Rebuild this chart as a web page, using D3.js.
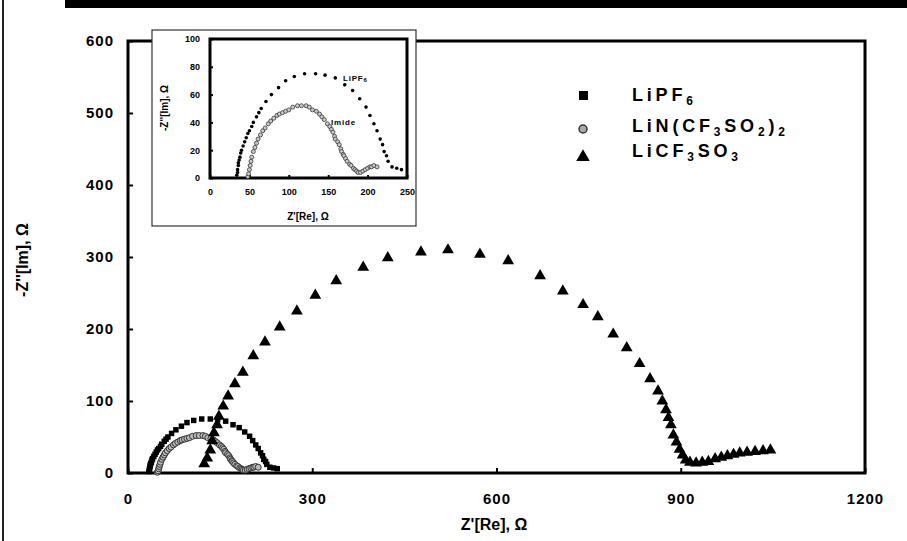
<!DOCTYPE html>
<html>
<head>
<meta charset="utf-8">
<script src="https://cdn.jsdelivr.net/npm/d3@7"></script>
<style>
  body { margin: 0; background: #fff; }
  svg { display: block; font-family: Arial, "Liberation Sans", sans-serif; font-weight: bold; }
</style>
</head>
<body>
<svg id="chart" width="907" height="541"></svg>
<script>
// data (Z' , -Z'')
const lipf6 = [[34,2],[35,4],[35,6],[36,9],[36,11],[37,13],[38,15],[39,18],[40,20],[42,23],[44,26],[46,29],[48,32],[50,34],[53,37],[55,40],[59,44],[62,47],[65,50],[71,55],[78,60],[87,65],[96,70],[107,73],[120,75],[134,75],[146,74],[159,72],[171,67],[181,63],[190,57],[198,51],[203,45],[208,39],[212,34],[216,28],[219,24],[221,19],[224,16],[226,12],[231,8],[237,7],[243,6]];
const imide = [[48,1],[49,3],[50,6],[51,9],[52,12],[53,15],[55,19],[57,22],[59,25],[61,28],[64,31],[67,34],[70,36],[74,39],[77,41],[81,43],[85,45],[88,46],[92,47],[96,48],[100,49],[105,51],[111,52],[116,52],[122,52],[126,51],[130,49],[135,48],[139,46],[142,44],[145,42],[149,39],[152,37],[154,35],[156,33],[158,30],[159,28],[162,26],[164,24],[166,21],[167,19],[169,17],[170,16],[172,14],[174,12],[177,10],[179,9],[182,7],[184,6],[186,5],[188,4],[191,4],[194,5],[197,6],[200,7],[203,8],[205,8],[208,9],[212,8]];
const licf3so3 = [[124,10],[129,18],[134,29],[137,42],[140,53],[145,64],[148,76],[155,90],[163,104],[174,121],[187,137],[204,160],[223,179],[247,200],[275,222],[305,244],[339,264],[383,283],[423,296],[477,304],[521,307],[573,301],[619,292],[671,271],[708,250],[741,231],[765,214],[790,190],[812,171],[833,149],[850,128],[863,111],[870,97],[876,85],[880,74],[884,64],[888,50],[893,40],[898,30],[903,22],[908,15],[915,12],[925,11],[935,12],[945,13],[956,17],[966,19],[976,21],[986,23],[996,25],[1008,26],[1021,27],[1034,28],[1046,29]];

const xTicks = [0, 300, 600, 900, 1200];
const yTicks = [0, 100, 200, 300, 400, 500, 600];
const insetXTicks = [0, 50, 100, 150, 200, 250];
const insetYTicks = [0, 20, 40, 60, 80, 100];

const svg = d3.select('#chart');

// scan edges
svg.append('rect').attr('x', 65).attr('y', 0).attr('width', 842).attr('height', 8).attr('fill', '#000');
svg.append('rect').attr('x', 2).attr('y', 0).attr('width', 2).attr('height', 541).attr('fill', '#222');

/// main plot
const x = d3.scaleLinear().domain([0, 1200]).range([128, 865]);
const y = d3.scaleLinear().domain([0, 600]).range([473, 41]);

svg.append('g').attr('transform', 'translate(0,473)')
  .call(d3.axisBottom(x).tickValues(xTicks).tickFormat(d3.format('d')).tickSizeInner(-5).tickSizeOuter(0).tickPadding(20))
  .call(g => g.select('.domain').remove())
  .call(g => g.selectAll('line').attr('stroke-width', 2))
  .call(g => g.selectAll('text').attr('font-size', 15).attr('font-weight', 'bold').attr('fill', '#000').attr('letter-spacing', 1));

svg.append('g').attr('transform', 'translate(128,0)')
  .call(d3.axisLeft(y).tickValues(yTicks).tickSizeInner(-5).tickSizeOuter(0).tickPadding(14))
  .call(g => g.select('.domain').remove())
  .call(g => g.selectAll('line').attr('stroke-width', 2))
  .call(g => g.selectAll('text').attr('font-size', 15).attr('font-weight', 'bold').attr('fill', '#000').attr('letter-spacing', 1));

svg.append('rect').attr('x', 128).attr('y', 41).attr('width', 737).attr('height', 432)
  .attr('fill', 'none').attr('stroke', '#000').attr('stroke-width', 3);

svg.append('text').attr('x', 494).attr('y', 530).attr('text-anchor', 'middle')
  .attr('font-size', 16).text("Z'[Re], Ω");
svg.append('text').attr('transform', 'translate(28,260) rotate(-90)').attr('text-anchor', 'middle')
  .attr('font-size', 16).text("-Z''[Im], Ω");

const tri = d3.symbol().type(d3.symbolTriangle).size(60);
const sq = d3.symbol().type(d3.symbolSquare).size(30);

svg.append('g').selectAll('path').data(lipf6).join('path')
  .attr('d', sq).attr('fill', '#000')
  .attr('transform', d => `translate(${x(d[0])},${y(d[1])})`);
svg.append('g').selectAll('circle').data(imide).join('circle')
  .attr('cx', d => x(d[0])).attr('cy', d => y(d[1])).attr('r', 3)
  .attr('fill', '#bbb').attr('stroke', '#333').attr('stroke-width', 1);
svg.append('g').selectAll('path').data(licf3so3).join('path')
  .attr('d', tri).attr('fill', '#000')
  .attr('transform', d => `translate(${x(d[0])},${y(d[1]) - 2})`);

/// legend
const legend = [
  { y: 101, parts: [['LiPF', 0], ['6', 1]] },
  { y: 132, parts: [['LiN(CF', 0], ['3', 1], ['SO', 0], ['2', 1], [')', 0], ['2', 1]] },
  { y: 157, parts: [['LiCF', 0], ['3', 1], ['SO', 0], ['3', 1]] }
];
legend.forEach(l => {
  const t = svg.append('text').attr('x', 632).attr('y', l.y).attr('font-size', 18).attr('letter-spacing', 3.8);
  let down = false;
  l.parts.forEach(p => {
    const s = t.append('tspan').text(p[0]);
    if (p[1] && !down) { s.attr('dy', 4).attr('font-size', 12); down = true; }
    else if (!p[1] && down) { s.attr('dy', -4); down = false; }
    else if (p[1]) s.attr('font-size', 12);
  });
});
svg.append('rect').attr('x', 579).attr('y', 91).attr('width', 9).attr('height', 9).attr('fill', '#000');
svg.append('circle').attr('cx', 583).attr('cy', 129).attr('r', 4).attr('fill', '#aaa').attr('stroke', '#333').attr('stroke-width', 1.5);
svg.append('path').attr('d', d3.symbol().type(d3.symbolTriangle).size(80)).attr('fill', '#000')
  .attr('transform', 'translate(583,157)');

/// inset
svg.append('rect').attr('x', 152).attr('y', 30).attr('width', 264).attr('height', 196)
  .attr('fill', '#fff').attr('stroke', '#333').attr('stroke-width', 1.2);

const ix = d3.scaleLinear().domain([0, 250]).range([210, 407]);
const iy = d3.scaleLinear().domain([0, 100]).range([178, 39]);

svg.append('g').attr('transform', 'translate(0,178)')
  .call(d3.axisBottom(ix).tickValues(insetXTicks).tickSizeInner(-3).tickSizeOuter(0).tickPadding(11))
  .call(g => g.select('.domain').remove())
  .call(g => g.selectAll('line').attr('stroke-width', 2))
  .call(g => g.selectAll('text').attr('font-size', 9).attr('font-weight', 'bold').attr('fill', '#000'));
svg.append('g').attr('transform', 'translate(210,0)')
  .call(d3.axisLeft(iy).tickValues(insetYTicks).tickSizeInner(-3).tickSizeOuter(0).tickPadding(10))
  .call(g => g.select('.domain').remove())
  .call(g => g.selectAll('line').attr('stroke-width', 2))
  .call(g => g.selectAll('text').attr('font-size', 9).attr('font-weight', 'bold').attr('fill', '#000'));

svg.append('rect').attr('x', 210).attr('y', 39).attr('width', 197).attr('height', 139)
  .attr('fill', 'none').attr('stroke', '#000').attr('stroke-width', 3);

svg.append('g').selectAll('circle').data(lipf6).join('circle')
  .attr('cx', d => ix(d[0])).attr('cy', d => iy(d[1])).attr('r', 1.8).attr('fill', '#000');
svg.append('g').selectAll('circle').data(imide).join('circle')
  .attr('cx', d => ix(d[0])).attr('cy', d => iy(d[1])).attr('r', 2)
  .attr('fill', '#ccc').attr('stroke', '#333').attr('stroke-width', 0.8);

svg.append('text').attr('x', 343).attr('y', 81).attr('font-size', 8).attr('letter-spacing', 0.8)
  .call(t => { t.append('tspan').text('LiPF'); t.append('tspan').attr('font-size', 6).attr('dy', 1).text('6'); });
svg.append('text').attr('x', 331).attr('y', 125).attr('font-size', 8).attr('letter-spacing', 0.8).text('Imide');

svg.append('text').attr('x', 308).attr('y', 220).attr('text-anchor', 'middle')
  .attr('font-size', 10).text("Z'[Re], Ω");
svg.append('text').attr('transform', 'translate(168,108) rotate(-90)').attr('text-anchor', 'middle')
  .attr('font-size', 10).text("-Z''[Im], Ω");
</script>
</body>
</html>
